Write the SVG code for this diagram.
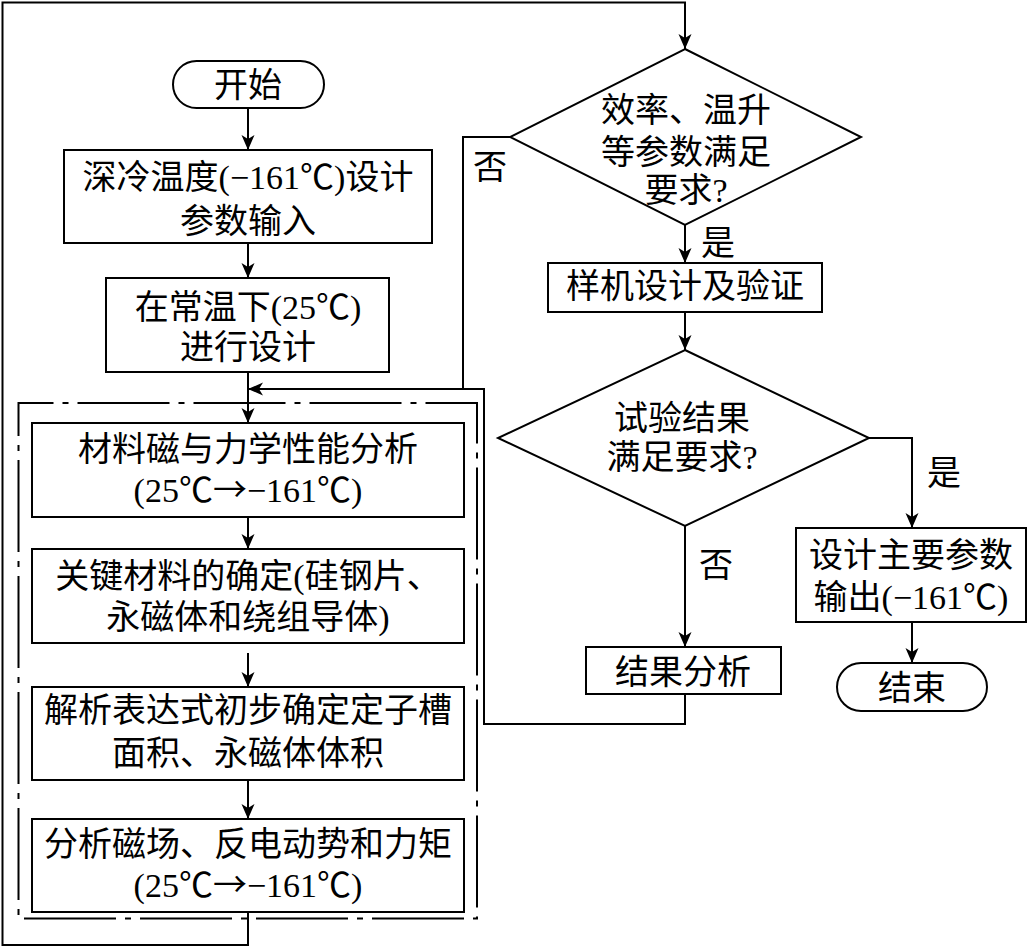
<svg xmlns="http://www.w3.org/2000/svg" width="1029" height="948" viewBox="0 0 1029 948">
<defs>
<style>
.n{fill:#fff;stroke:#000;stroke-width:2}
.c{fill:none;stroke:#000;stroke-width:2}
.dd{fill:none;stroke:#000;stroke-width:2;stroke-dasharray:92 9 6 9;stroke-dashoffset:57}
text{font-family:"Liberation Serif","Noto Sans CJK SC",serif;font-size:34px;fill:#000;text-anchor:middle}
.ar{font-family:"Noto Sans CJK SC",sans-serif}
</style>
<marker id="ah" markerUnits="userSpaceOnUse" markerWidth="16" markerHeight="14" refX="15" refY="6.5" orient="auto">
<path d="M0,0 L15,6.5 L0,13 L4,6.5 Z" fill="#000"/>
</marker>
</defs>
<rect width="1029" height="948" fill="#fff"/>
<g id="connectors">
<path class="c" d="M248,108 V150" marker-end="url(#ah)"/>
<path class="c" d="M248,243 V278" marker-end="url(#ah)"/>
<path class="c" d="M248,372 V423" marker-end="url(#ah)"/>
<path class="c" d="M510,137 H463 V389"/>
<path class="c" d="M685,694 V724 H484 V389 H248" marker-end="url(#ah)"/>
<path class="c" d="M248,517 V549" marker-end="url(#ah)"/>
<path class="c" d="M248,653 V687" marker-end="url(#ah)"/>
<path class="c" d="M248,780 V819" marker-end="url(#ah)"/>
<path class="c" d="M248,912 V945 H2.5 V2.5 H685 V49" marker-end="url(#ah)"/>
<path class="c" d="M685,225 V263" marker-end="url(#ah)"/>
<path class="c" d="M685,312 V350" marker-end="url(#ah)"/>
<path class="c" d="M685,526 V647" marker-end="url(#ah)"/>
<path class="c" d="M869,438 H912 V528" marker-end="url(#ah)"/>
<path class="c" d="M912,622 V663" marker-end="url(#ah)"/>
<text x="490" y="179">否</text>
<text x="718" y="255">是</text>
<text x="716" y="577">否</text>
<text x="944" y="485">是</text>
</g>
<g id="group-box">
<path class="dd" d="M18.5,403 H477 V918.5 H18.5 Z"/>
</g>
<g id="start">
<rect class="n" x="173" y="61" width="151" height="47" rx="23.5"/>
<text x="248" y="97">开始</text>
</g>
<g id="input">
<rect class="n" x="64" y="150" width="368" height="93"/>
<text x="248" y="189">深冷温度(−161℃)设计</text>
<text x="248" y="233">参数输入</text>
</g>
<g id="room-design">
<rect class="n" x="106" y="278" width="283" height="94"/>
<text x="248" y="319">在常温下(25℃)</text>
<text x="248" y="359">进行设计</text>
</g>
<g id="material-analysis">
<rect class="n" x="32" y="423" width="432" height="94"/>
<text x="248" y="461">材料磁与力学性能分析</text>
<text x="248" y="502">(25℃<tspan class="ar">→</tspan>−161℃)</text>
</g>
<g id="material-select">
<rect class="n" x="32" y="549" width="432" height="94"/>
<text x="248" y="588">关键材料的确定(硅钢片、</text>
<text x="248" y="629">永磁体和绕组导体)</text>
</g>
<g id="analytic">
<rect class="n" x="32" y="687" width="432" height="93"/>
<text x="248" y="722">解析表达式初步确定定子槽</text>
<text x="248" y="765">面积、永磁体体积</text>
</g>
<g id="field-analysis">
<rect class="n" x="32" y="819" width="432" height="93"/>
<text x="248" y="856">分析磁场、反电动势和力矩</text>
<text x="248" y="897">(25℃<tspan class="ar">→</tspan>−161℃)</text>
</g>
<g id="decision1">
<polygon class="n" points="685,49 861,137 685,225 510,137"/>
<text x="686" y="122">效率、温升</text>
<text x="686" y="164">等参数满足</text>
<text x="686" y="202">要求?</text>
</g>
<g id="prototype">
<rect class="n" x="548" y="263" width="274" height="49"/>
<text x="685" y="298">样机设计及验证</text>
</g>
<g id="decision2">
<polygon class="n" points="685,350 869,438 685,526 498,438"/>
<text x="682" y="430">试验结果</text>
<text x="682" y="469">满足要求?</text>
</g>
<g id="result-analysis">
<rect class="n" x="586" y="647" width="195" height="47"/>
<text x="683" y="684">结果分析</text>
</g>
<g id="output">
<rect class="n" x="796" y="528" width="230" height="94"/>
<text x="911" y="567">设计主要参数</text>
<text x="911" y="609">输出(−161℃)</text>
</g>
<g id="end">
<rect class="n" x="837" y="663" width="150" height="48" rx="24"/>
<text x="912" y="700">结束</text>
</g>
</svg>
